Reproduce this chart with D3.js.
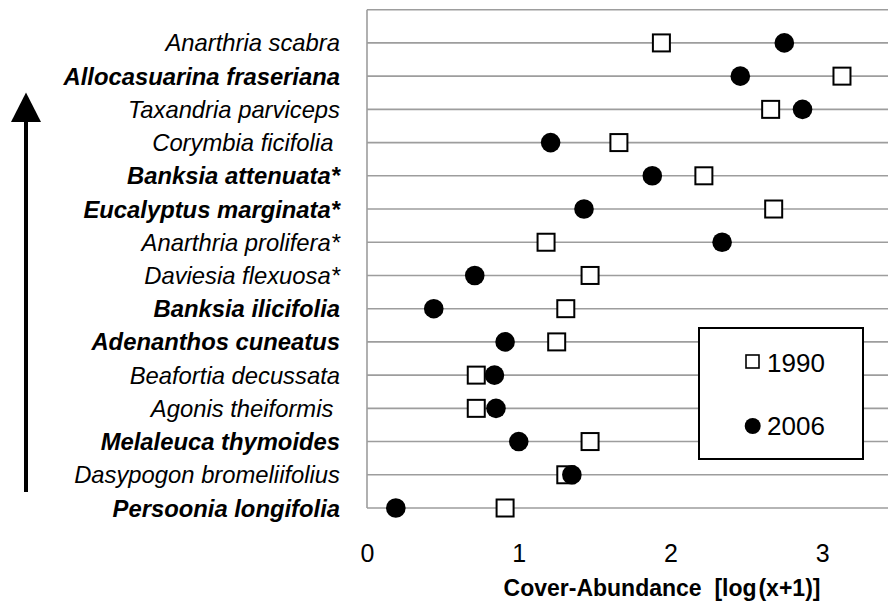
<!DOCTYPE html>
<html>
<head>
<meta charset="utf-8">
<script src="https://cdn.jsdelivr.net/npm/d3@7"></script>
<style>
  body { margin: 0; background: #fff; }
  svg { display: block; font-family: "Liberation Sans", Arial, sans-serif; }
</style>
</head>
<body>
<div id="chart"></div>
<script>
// species, listed top to bottom as in the chart
const species = [
    'Anarthria scabra', 'Allocasuarina fraseriana', 'Taxandria parviceps',
    'Corymbia ficifolia ', 'Banksia attenuata*', 'Eucalyptus marginata*',
    'Anarthria prolifera*', 'Daviesia flexuosa*', 'Banksia ilicifolia',
    'Adenanthos cuneatus', 'Beafortia decussata', 'Agonis theiformis ',
    'Melaleuca thymoides', 'Dasypogon bromeliifolius', 'Persoonia longifolia'
];
const boldSpecies = [
    'Allocasuarina fraseriana', 'Banksia attenuata*', 'Eucalyptus marginata*',
    'Banksia ilicifolia', 'Adenanthos cuneatus', 'Melaleuca thymoides',
    'Persoonia longifolia'
];
const values1990 = [1.94, 3.13, 2.66, 1.66, 2.22, 2.68, 1.18, 1.47, 1.31, 1.25, 0.72, 0.72, 1.47, 1.31, 0.91];
const values2006 = [2.75, 2.46, 2.87, 1.21, 1.88, 1.43, 2.34, 0.71, 0.44, 0.91, 0.84, 0.85, 1.00, 1.35, 0.19];
const xTicks = [0, 1, 2, 3];
const legendItems = ['1990', '2006'];

const width = 888;
const height = 607;

const svg = d3.select('#chart').append('svg')
    .attr('width', width)
    .attr('height', height);

// x runs 0..4 but the picture is cut off a little past 3
const x = d3.scaleLinear().domain([0, 4]).range([367, 974]);
// one row per species, plus an empty row on top
const y = d3.scaleLinear().domain([0, species.length]).range([508, 9.7]);
const rowY = i => y(species.length - 1 - i);

const gridColor = '#9d9d9d';

// horizontal grid lines (the top one is the frame)
svg.append('g').selectAll('line')
    .data(d3.range(0, species.length + 1))
    .enter()
    .append('line')
    .attr('x1', x(0))
    .attr('x2', width)
    .attr('y1', d => y(d))
    .attr('y2', d => y(d))
    .attr('stroke', gridColor)
    .attr('stroke-width', 1.6);

svg.append('line')
    .attr('x1', x(0)).attr('x2', x(0))
    .attr('y1', y(species.length)).attr('y2', y(0))
    .attr('stroke', gridColor)
    .attr('stroke-width', 1.6);

// x axis tick labels
const xAxis = d3.axisBottom(x).tickValues(xTicks).tickSize(0).tickPadding(0).tickFormat(d3.format('d'));
const axisG = svg.append('g')
    .attr('transform', `translate(0, ${y(0)})`)
    .call(xAxis);
axisG.select('.domain').remove();
axisG.selectAll('text')
    .attr('y', 54)
    .attr('dy', 0)
    .attr('font-size', '25px')
    .attr('font-family', '"Liberation Sans", Arial, sans-serif')
    .attr('fill', '#000');

svg.append('text')
    .attr('x', 662)
    .attr('y', 596)
    .attr('text-anchor', 'middle')
    .attr('font-size', '23px')
    .attr('font-weight', 'bold')
    .style('white-space', 'pre')
    .text('Cover-Abundance  [log\u200A(x+1)]');

// species labels
svg.append('g').selectAll('text')
    .data(species)
    .enter()
    .append('text')
    .attr('x', 340)
    .attr('y', (d, i) => rowY(i))
    .attr('dy', '0.36em')
    .attr('text-anchor', 'end')
    .attr('font-size', '23.8px')
    .attr('font-style', 'italic')
    .attr('font-weight', d => boldSpecies.includes(d) ? 'bold' : 'normal')
    .style('white-space', 'pre')
    .text(d => d);

// 1990: open squares
const sq = 17;
svg.append('g').selectAll('rect')
    .data(values1990)
    .enter()
    .append('rect')
    .attr('x', d => x(d) - sq / 2)
    .attr('y', (d, i) => rowY(i) - sq / 2)
    .attr('width', sq)
    .attr('height', sq)
    .attr('fill', '#fff')
    .attr('stroke', '#000')
    .attr('stroke-width', 2);

// 2006: filled circles
svg.append('g').selectAll('circle')
    .data(values2006)
    .enter()
    .append('circle')
    .attr('cx', d => x(d))
    .attr('cy', (d, i) => rowY(i))
    .attr('r', 9.8)
    .attr('fill', '#000');

// legend
const legend = svg.append('g');
legend.append('rect')
    .attr('x', 699).attr('y', 328)
    .attr('width', 164).attr('height', 131)
    .attr('fill', '#fff')
    .attr('stroke', '#000')
    .attr('stroke-width', 2);

legend.append('rect')
    .attr('x', 746).attr('y', 355)
    .attr('width', 13).attr('height', 13)
    .attr('fill', '#fff')
    .attr('stroke', '#000')
    .attr('stroke-width', 1.6);
legend.append('circle')
    .attr('cx', 752.7).attr('cy', 426)
    .attr('r', 8)
    .attr('fill', '#000');

legend.selectAll('text.item')
    .data(legendItems)
    .enter()
    .append('text')
    .attr('class', 'item')
    .attr('x', 767)
    .attr('y', (d, i) => 372 + i * 63)
    .attr('font-size', '26px')
    .text(d => d);

// arrow on the left
svg.append('line')
    .attr('x1', 26).attr('x2', 26)
    .attr('y1', 492).attr('y2', 118)
    .attr('stroke', '#000')
    .attr('stroke-width', 4);
svg.append('path')
    .attr('d', 'M26,92.5 L41,122 L11,122 Z')
    .attr('fill', '#000');
</script>
</body>
</html>
